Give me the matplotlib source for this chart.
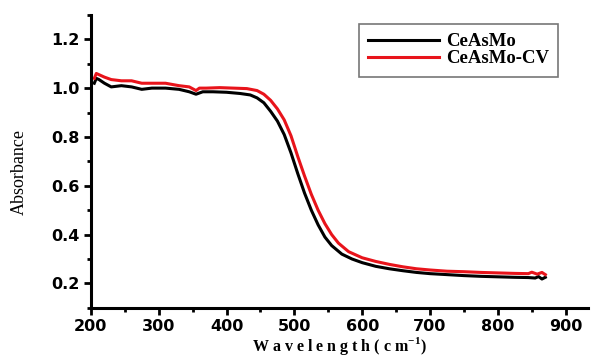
import matplotlib
matplotlib.use("Agg")
import matplotlib.pyplot as plt
from matplotlib.ticker import MultipleLocator, FormatStrFormatter

# CeAsMo
wl_black = [205, 208, 212, 220, 230, 245, 260, 275, 290, 310, 330, 345, 355,
            365, 380, 400, 420, 435, 445, 455, 465, 475, 485, 495, 505, 515,
            525, 535, 545, 555, 570, 585, 600, 620, 640, 660, 680, 700, 725,
            750, 775, 800, 825, 845, 855, 860, 865, 870]
abs_black = [1.02, 1.04, 1.035, 1.02, 1.005, 1.01, 1.005, 0.995, 1.0, 1.0,
             0.995, 0.985, 0.975, 0.985, 0.985, 0.983, 0.978, 0.972, 0.96,
             0.94, 0.905, 0.865, 0.81, 0.735, 0.65, 0.57, 0.5, 0.44, 0.39,
             0.355, 0.32, 0.3, 0.285, 0.27, 0.26, 0.252, 0.245, 0.24, 0.236,
             0.232, 0.229, 0.227, 0.225, 0.224, 0.222, 0.228, 0.218, 0.225]

# CeAsMo-CV
wl_red = [205, 208, 212, 220, 230, 245, 260, 275, 290, 310, 330, 345, 355,
          360, 370, 390, 410, 430, 445, 455, 465, 475, 485, 495, 505, 515,
          525, 535, 545, 555, 565, 580, 600, 620, 640, 660, 680, 700, 725,
          750, 775, 800, 825, 845, 850, 858, 865, 870]
abs_red = [1.04, 1.06, 1.055, 1.045, 1.035, 1.03, 1.03, 1.02, 1.02, 1.02,
           1.01, 1.005, 0.99, 1.0, 1.0, 1.002, 1.0, 0.998, 0.99, 0.975, 0.95,
           0.915, 0.87, 0.805, 0.72, 0.64, 0.565, 0.5, 0.445, 0.4, 0.365,
           0.33, 0.305, 0.29, 0.278, 0.268, 0.26, 0.255, 0.25, 0.248, 0.245,
           0.243, 0.241, 0.24, 0.246, 0.238, 0.245, 0.236]


def main():
    plt.rcParams['mathtext.fontset'] = 'custom'
    plt.rcParams['mathtext.rm'] = 'Liberation Serif'
    plt.rcParams['mathtext.bf'] = 'Liberation Serif:bold'

    fig = plt.figure(figsize=(5.94, 3.63), dpi=100)
    ax = fig.add_axes([0.153, 0.152, 0.837, 0.807])

    ax.plot(wl_black, abs_black, color="black", lw=2.2, label="CeAsMo")
    ax.plot(wl_red, abs_red, color="#e8141b", lw=2.2, label="CeAsMo-CV")

    ax.set_xlim(200, 933)
    ax.set_ylim(0.1, 1.3)
    ax.xaxis.set_major_locator(MultipleLocator(100))
    ax.xaxis.set_minor_locator(MultipleLocator(50))
    ax.yaxis.set_major_locator(MultipleLocator(0.2))
    ax.yaxis.set_minor_locator(MultipleLocator(0.1))
    ax.yaxis.set_major_formatter(FormatStrFormatter('%.1f'))

    for side in ("top", "right"):
        ax.spines[side].set_visible(False)
    for side in ("left", "bottom"):
        ax.spines[side].set_linewidth(2.2)

    ax.tick_params(which="major", direction="out", length=5, width=2,
                   labelsize=11.5, pad=3)
    ax.tick_params(which="minor", direction="out", length=3, width=2)
    for lab in ax.get_xticklabels() + ax.get_yticklabels():
        lab.set_fontweight("bold")
        lab.set_family("DejaVu Sans")

    ax.set_ylabel("Absorbance", family="Liberation Serif", fontsize=13)
    ax.yaxis.set_label_coords(-0.127, 0.464)
    ax.set_xlabel("W a v e l e n g t h ( c m$^{\\mathbf{-1}}$)",
                  family="Liberation Serif", fontweight="bold", fontsize=11.5,
                  labelpad=1)

    leg = ax.legend(loc="upper right", bbox_to_anchor=(0.94, 0.97),
                    prop={"family": "Liberation Serif", "weight": "bold",
                          "size": 13.5},
                    fancybox=False, edgecolor="#555555", handlelength=3.8,
                    borderpad=0.5, labelspacing=0.0, borderaxespad=0,
                    handletextpad=0.35)
    leg.get_frame().set_linewidth(1.2)

    fig.savefig("out.png", dpi=100)


if __name__ == "__main__":
    main()
